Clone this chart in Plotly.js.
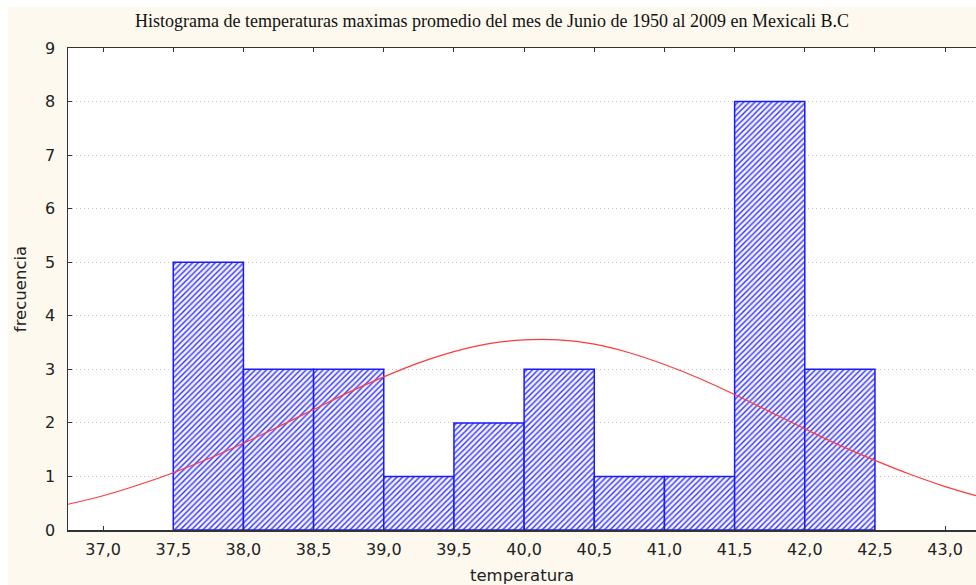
<!DOCTYPE html>
<html>
<head>
<meta charset="utf-8">
<script src="https://cdn.plot.ly/plotly-3.0.1.min.js"></script>
<style>
html,body{margin:0;padding:0;background:#ffffff;width:976px;height:585px;overflow:hidden;}
#chart{position:absolute;left:8px;top:7px;width:968px;height:578px;}
</style>
</head>
<body>
<div id="chart"></div>
<script>
// Histogram bins (centres) and frequencies
const binCenters = [37.75, 38.25, 38.75, 39.25, 39.75, 40.25, 40.75, 41.25, 41.75, 42.25];
const frequencies = [5, 3, 3, 1, 2, 3, 1, 1, 8, 3];

// Fitted normal curve
const curveX = [36.75, 37.0, 37.25, 37.5, 37.75, 38.0, 38.25, 38.5, 38.75, 39.0, 39.25, 39.5, 39.75, 40.0, 40.25, 40.5, 40.75, 41.0, 41.25, 41.5, 41.75, 42.0, 42.25, 42.5, 42.75, 43.0, 43.22];
const curveY = [0.48, 0.64, 0.84, 1.07, 1.33, 1.62, 1.93, 2.25, 2.57, 2.86, 3.12, 3.33, 3.48, 3.55, 3.55, 3.47, 3.31, 3.09, 2.83, 2.53, 2.21, 1.89, 1.58, 1.30, 1.04, 0.81, 0.64];

const xTicks = [37.0, 37.5, 38.0, 38.5, 39.0, 39.5, 40.0, 40.5, 41.0, 41.5, 42.0, 42.5, 43.0];
const yTicks = [0, 1, 2, 3, 4, 5, 6, 7, 8, 9];

const titleText = "Histograma de temperaturas maximas promedio del mes de Junio de 1950 al 2009 en Mexicali B.C";

const sans = 'DejaVu Sans, Verdana, sans-serif';

const bars = {
  type: 'bar',
  x: binCenters,
  y: frequencies,
  width: 0.5,
  marker: {
    color: '#ffffff',
    line: {color: '#1a1aff', width: 1.5},
    pattern: {shape: '/', fgcolor: '#3535ff', bgcolor: '#f4f4ff', size: 4, solidity: 0.36}
  },
  hoverinfo: 'skip'
};

const curve = {
  type: 'scatter',
  mode: 'lines',
  x: curveX,
  y: curveY,
  line: {color: '#ff3a3a', width: 1.2, shape: 'spline'},
  hoverinfo: 'skip'
};

const layout = {
  width: 968,
  height: 578,
  paper_bgcolor: '#fdf9ee',
  plot_bgcolor: '#ffffff',
  separators: ', ',
  showlegend: false,
  bargap: 0,
  margin: {l: 60, r: 0, t: 41, b: 55, pad: 0},
  title: {
    text: titleText,
    font: {family: 'Liberation Serif, Times New Roman, serif', size: 18, color: '#111111'},
    x: 0.5, xref: 'container', y: 0.976, yref: 'container', yanchor: 'middle'
  },
  xaxis: {
    range: [36.75, 43.22],
    tickvals: xTicks,
    tickformat: '.1f',
    ticks: 'inside',
    ticklen: 4,
    tickcolor: '#333333',
    showline: true,
    linecolor: '#333333',
    linewidth: 1.5,
    mirror: 'ticks',
    showgrid: false,
    zeroline: false,
    ticklabelstandoff: 4,
    tickfont: {family: sans, size: 16, color: '#222222'},
    title: {text: 'temperatura', standoff: 12, font: {family: sans, size: 16.5, color: '#222222'}}
  },
  yaxis: {
    range: [0, 9],
    tickvals: yTicks,
    ticks: 'inside',
    ticklen: 4,
    tickcolor: '#333333',
    showline: true,
    linecolor: '#333333',
    linewidth: 1.5,
    showgrid: true,
    gridcolor: '#c4c4c4',
    griddash: '1px,3px',
    gridwidth: 1,
    zeroline: false,
    ticklabelstandoff: 8,
    tickfont: {family: sans, size: 16, color: '#222222'},
    title: {text: 'frecuencia', standoff: 14, font: {family: sans, size: 16.5, color: '#222222'}}
  }
};

Plotly.newPlot('chart', [bars, curve], layout, {displayModeBar: false, staticPlot: true});
</script>
</body>
</html>
